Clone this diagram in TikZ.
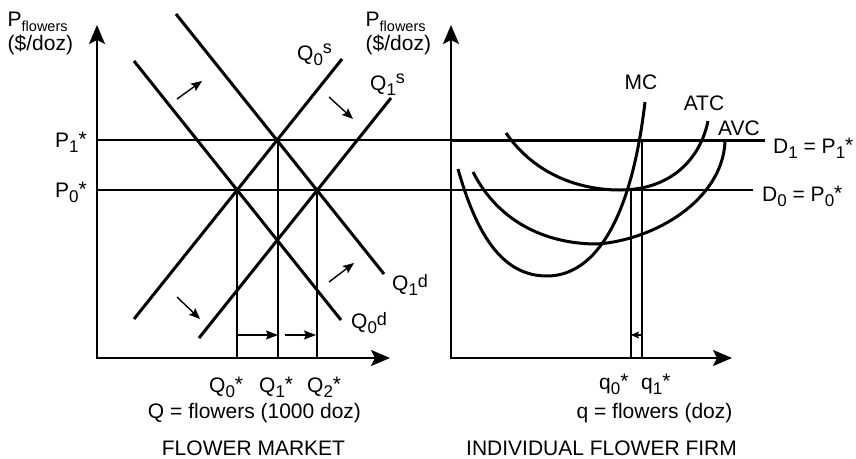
\documentclass[tikz,border=0pt]{standalone}
\usepackage{fontspec}
\setmainfont{Liberation Sans}
\usetikzlibrary{arrows.meta}
\newcommand\dsub[1]{\raisebox{-5pt}{\fontsize{17}{17}\selectfont #1}}
\newcommand\fsub[1]{\raisebox{-5pt}{\fontsize{14.5}{15}\selectfont #1}}
\newcommand\ssup[1]{\raisebox{7pt}{\fontsize{18}{18}\selectfont #1}}
\newcommand\dsup[1]{\raisebox{3pt}{\fontsize{18}{18}\selectfont #1}}
\newcommand\astr{\raisebox{1pt}{*}}
\begin{document}
\begin{tikzpicture}[x=1pt,y=-1pt,
  lbl/.style={inner sep=0pt, font=\fontsize{21}{25}\selectfont},
  axis/.style={line width=2.3pt, {Stealth[length=19pt,width=16pt,inset=4pt]}-{Stealth[length=19pt,width=16pt,inset=4pt]}},
  curve/.style={line width=3pt},
  thinl/.style={line width=1.8pt},
  hair/.style={line width=1.1pt},
  shiftarr/.style={line width=1.4pt, -{Stealth[length=11pt,width=9pt,inset=2pt]}},
  qarr/.style={line width=1.3pt, -{Stealth[length=12pt,width=9pt,inset=2pt]}}]
\useasboundingbox (0,0) rectangle (856,458);
% coordinates
\coordinate (Y1) at (97,25);  \coordinate (X1) at (390,358);
\coordinate (Y2) at (451,25); \coordinate (X2) at (732,358);
\coordinate (P1L) at (97,140); \coordinate (P1M) at (451,140); \coordinate (P1R) at (765,140);
\coordinate (P0L) at (97,190); \coordinate (P0R) at (753,190);
% axes
\draw[axis] (Y1) |- (X1);
\draw[axis] (Y2) |- (X2);
% price lines
\draw[thinl] (P1L) -- (P1M);
\draw[curve] (P1M) -- (P1R);
\draw[thinl] (P0L) -- (P0R);
% supply and demand
\coordinate (d0a) at (134,61);  \coordinate (d0b) at (341,320);
\coordinate (d1a) at (176,14);  \coordinate (d1b) at (384,274);
\coordinate (s0a) at (134,319); \coordinate (s0b) at (342,59);
\coordinate (s1a) at (199,338); \coordinate (s1b) at (391,98);
\draw[curve] (d0a) -- (d0b);
\draw[curve] (d1a) -- (d1b);
\draw[curve] (s0a) -- (s0b);
\draw[curve] (s1a) -- (s1b);
% quantity lines
\coordinate (q0t) at (237,190); \coordinate (q0b) at (237,358);
\coordinate (q1t) at (278,140); \coordinate (q1b) at (278,358);
\coordinate (q2t) at (317,190); \coordinate (q2b) at (317,358);
\draw[thinl] (q0t) -- (q0b);
\draw[thinl] (q1t) -- (q1b);
\draw[thinl] (q2t) -- (q2b);
\coordinate (ha) at (237,335); \coordinate (hb) at (278,335);
\coordinate (hc) at (285,335); \coordinate (hd) at (316,335);
\draw[qarr] (ha) -- (hb);
\draw[qarr] (hc) -- (hd);
% shift arrows
\coordinate (a1) at (177,99);  \coordinate (a2) at (202,81);
\coordinate (b1) at (329,97);  \coordinate (b2) at (353,119);
\coordinate (c1) at (177,297); \coordinate (c2) at (200,319);
\coordinate (e1) at (329,282); \coordinate (e2) at (354,263);
\draw[shiftarr] (a1) -- (a2);
\draw[shiftarr] (b1) -- (b2);
\draw[shiftarr] (c1) -- (c2);
\draw[shiftarr] (e1) -- (e2);
% firm
\coordinate (f0t) at (631,190); \coordinate (f0b) at (631,358);
\coordinate (f1t) at (642,140); \coordinate (f1b) at (642,358);
\draw[hair] (f0t) -- (f0b);
\draw[thinl] (f1t) -- (f1b);
\coordinate (fa) at (642,335); \coordinate (fb) at (631,335);
\draw[line width=1.1pt, -{Stealth[length=8pt,width=7pt,inset=1.5pt]}] (fa) -- (fb);
% cost curves
\draw[curve] (458,169) .. controls (478,240) and (505,276) .. (547,276)
   .. controls (590,276) and (630,230) .. (645,102);
\draw[curve] (506,133) .. controls (535,175) and (580,190) .. (620,190)
   .. controls (670,190) and (700,160) .. (708,121);
\draw[curve] (473,172) .. controls (500,225) and (550,244) .. (597,244)
   .. controls (655,240) and (722,200) .. (725,142);
% labels
\node[lbl, anchor=base west] (pfl) at (7.5,26) {P\fsub{flowers}};
\node[lbl, anchor=base west] (pdl) at (7.5,50) {(\$/doz)};
\node[lbl, anchor=base west] (pfr) at (365.5,26) {P\fsub{flowers}};
\node[lbl, anchor=base west] (pdr) at (365.5,50) {(\$/doz)};
\node[lbl, anchor=base east] (p1) at (87,147) {P\dsub{1}\astr};
\node[lbl, anchor=base east] (p0) at (87,197) {P\dsub{0}\astr};
\node[lbl, anchor=base west] (lq0s) at (297,60) {Q\dsub{0}\ssup{s}};
\node[lbl, anchor=base west] (lq1s) at (370,90) {Q\dsub{1}\ssup{s}};
\node[lbl, anchor=base west] (lq1d) at (392,290) {Q\dsub{1}\dsup{d}};
\node[lbl, anchor=base west] (lq0d) at (351,328) {Q\dsub{0}\dsup{d}};
\node[lbl, anchor=base west] (lQ0) at (209,392) {Q\dsub{0}\astr};
\node[lbl, anchor=base west] (lQ1) at (259,392) {Q\dsub{1}\astr};
\node[lbl, anchor=base west] (lQ2) at (307,392) {Q\dsub{2}\astr};
\node[lbl, anchor=base] (qax) at (254.5,418) {Q = flowers (1000 doz)};
\node[lbl, anchor=base] (fm) at (253.5,455) {FLOWER MARKET};
\node[lbl, anchor=base west] (lq0) at (599,389) {q\dsub{0}\astr};
\node[lbl, anchor=base west] (lq1) at (641,389) {q\dsub{1}\astr};
\node[lbl, anchor=base] (qfx) at (654.5,418) {q = flowers (doz)};
\node[lbl, anchor=base] (iff) at (601.5,455) {INDIVIDUAL FLOWER FIRM};
\node[lbl, anchor=base] (mc) at (641,89) {MC};
\node[lbl, anchor=base] (atc) at (704,110) {ATC};
\node[lbl, anchor=base] (avc) at (739,135) {AVC};
\node[lbl, anchor=base west] (d1) at (773,153) {D\dsub{1} = P\dsub{1}\astr};
\node[lbl, anchor=base west] (d0) at (762,201) {D\dsub{0} = P\dsub{0}\astr};
\end{tikzpicture}
\end{document}
